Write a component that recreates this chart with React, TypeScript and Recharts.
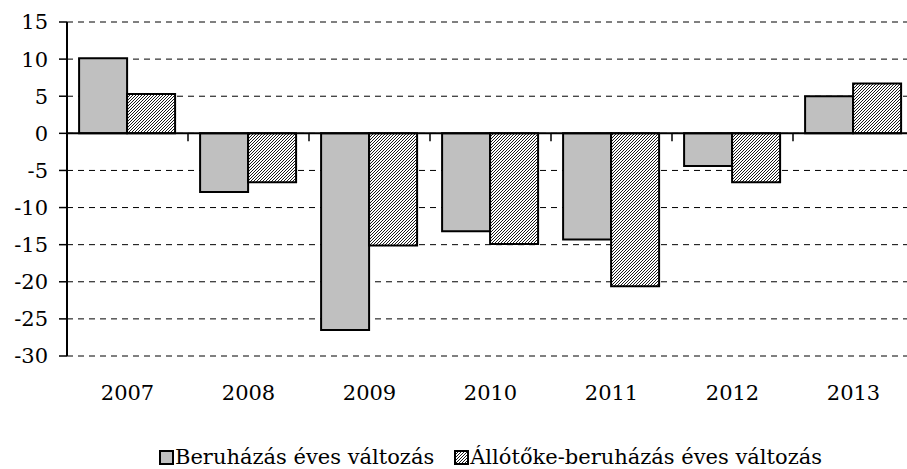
import React from "react";
import { BarChart, Bar, XAxis, YAxis, CartesianGrid, ReferenceLine, Legend } from "recharts";

const years = ["2007", "2008", "2009", "2010", "2011", "2012", "2013"];
const beruhazas = [10.1, -7.9, -26.5, -13.2, -14.3, -4.4, 5.0];
const allotoke = [5.3, -6.6, -15.1, -14.9, -20.6, -6.6, 6.7];
const yTicks = [-30, -25, -20, -15, -10, -5, 0, 5, 10, 15];
const seriesNames = ["Beruházás éves változás", "Állótőke-beruházás éves változás"];

const data = years.map((y, i) => ({ year: y, a: beruhazas[i], b: allotoke[i] }));

const FONT = "'DejaVu Serif', 'Liberation Serif', serif";

const ZeroLine = (props: any) => {
  const { x1, y1, x2, y2 } = props;
  const n = years.length;
  const step = (x2 - x1) / n;
  const ticks = [];
  for (let i = 0; i <= n; i++) {
    const x = x1 + i * step;
    ticks.push(<line key={i} x1={x} x2={x} y1={y1} y2={y1 + 8} stroke="#000" strokeWidth={1.5} />);
  }
  return (
    <g>
      <line x1={x1} y1={y1} x2={x2} y2={y2} stroke="#000" strokeWidth={2} />
      {ticks}
    </g>
  );
};

const HatchDefs = ({ id }: { id: string }) => (
  <pattern id={id} patternUnits="userSpaceOnUse" width={3} height={3}>
    <rect width={3} height={3} fill="#fff" />
    <path d="M-1,1 l2,-2 M0,3 l3,-3 M2,4 l2,-2" stroke="#000" strokeWidth={0.9} />
  </pattern>
);

const LegendContent = () => (
  <div
    style={{
      display: "flex",
      justifyContent: "center",
      alignItems: "center",
      fontFamily: FONT,
      fontSize: 21,
      lineHeight: "22px",
      color: "#000",
      whiteSpace: "nowrap",
    }}
  >
    <svg width={15} height={15} style={{ marginRight: 1 }}>
      <rect x={1} y={1} width={13} height={13} fill="#c0c0c0" stroke="#000" strokeWidth={2} />
    </svg>
    <span style={{ marginRight: 20 }}>{seriesNames[0]}</span>
    <svg width={15} height={15} style={{ marginRight: 1 }}>
      <defs>
        <HatchDefs id="hatchLegend" />
      </defs>
      <rect x={1} y={1} width={13} height={13} fill="url(#hatchLegend)" stroke="#000" strokeWidth={2} />
    </svg>
    <span>{seriesNames[1]}</span>
  </div>
);

export default function App() {
  return (
    <div style={{ position: "absolute", left: 0, top: 0, width: 907, height: 469, overflow: "hidden", background: "#fff" }}>
      <BarChart
        width={914}
        height={469}
        data={data}
        margin={{ top: 22, right: 0, left: 0, bottom: 51 }}
        barCategoryGap="10%"
        barGap={0}
      >
        <defs>
          <HatchDefs id="hatchBar" />
        </defs>
        <CartesianGrid horizontal vertical={false} stroke="#000" strokeDasharray="6 5" strokeWidth={1} />
        <XAxis
          dataKey="year"
          axisLine={false}
          tickLine={false}
          height={40}
          tickSize={6}
          tickMargin={23}
          tick={{ fill: "#000", fontSize: 21, fontFamily: FONT }}
          interval={0}
        />
        <YAxis
          type="number"
          domain={[-30, 15]}
          ticks={yTicks}
          interval={0}
          width={67}
          axisLine={{ stroke: "#000", strokeWidth: 2 }}
          tickLine={{ stroke: "#000", strokeWidth: 1.5 }}
          tickSize={8}
          tickMargin={11}
          tick={{ fill: "#000", fontSize: 21, fontFamily: FONT }}
        />
        <Bar dataKey="a" name={seriesNames[0]} fill="#c0c0c0" stroke="#000" strokeWidth={2} isAnimationActive={false} />
        <Bar dataKey="b" name={seriesNames[1]} fill="url(#hatchBar)" stroke="#000" strokeWidth={2} isAnimationActive={false} />
        <ReferenceLine y={0} shape={ZeroLine} ifOverflow="visible" />
        <Legend
          content={<LegendContent />}
          wrapperStyle={{ position: "absolute", top: 446, left: 67, width: 847, height: 22 }}
        />
      </BarChart>
    </div>
  );
}
